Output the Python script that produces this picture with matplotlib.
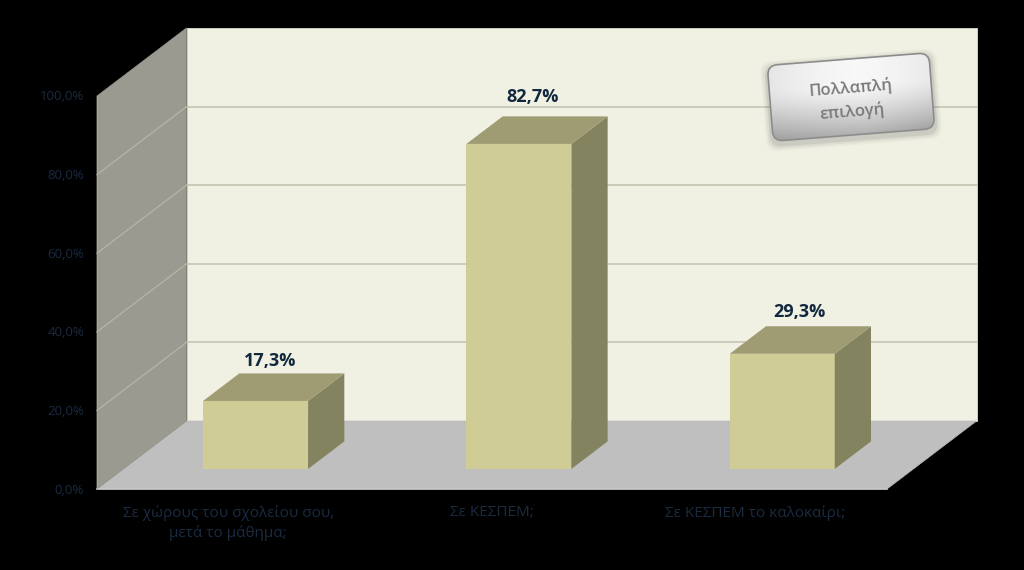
import numpy as np
import matplotlib
matplotlib.use('Agg')
import matplotlib.pyplot as plt
from matplotlib.patches import Polygon, FancyBboxPatch
from matplotlib.transforms import Affine2D

plt.rcParams['font.family'] = ['Open Sans', 'DejaVu Sans']

categories = ['Σε χώρους του σχολείου σου,\nμετά το μάθημα;', 'Σε ΚΕΣΠΕΜ;', 'Σε ΚΕΣΠΕΜ το καλοκαίρι;']
values = [17.3, 82.7, 29.3]
value_labels = ['17,3%', '82,7%', '29,3%']
y_ticks = [0, 20, 40, 60, 80, 100]
y_tick_labels = ['0,0%', '20,0%', '40,0%', '60,0%', '80,0%', '100,0%']
badge_lines = 'Πολλαπλή\nεπιλογή'

# front plane of the 3d box in pixels
x0, x1 = 97, 887
y0, y100 = 489, 96
dx, dy = 89.5, -68   # full depth offset
cat_w = (x1 - x0) / len(categories)
bar_w = 105
d_front, d_back = 0.295, 0.70   # bar depth range, fraction of the box
label_shift = [(-3.5, 3), (-4, 10), (-1, 5)]   # hand placed in the original


def pt(x, v, d=0.0):
    # x in front plane px, v in percent, d depth 0..1
    return (x + d * dx, y0 + (y100 - y0) * v / 100 + d * dy)


fig = plt.figure(figsize=(10.24, 5.7), dpi=100, facecolor='black')
ax = fig.add_axes([0, 0, 1, 1])
ax.set_xlim(0, 1024)
ax.set_ylim(570, 0)
ax.axis('off')

# back wall, side wall, floor
ax.add_patch(Polygon([pt(x0, 0, 1), pt(x1, 0, 1), pt(x1, 100, 1), pt(x0, 100, 1)], fc='#f0f0e3', ec='#f0f0e3', lw=0.5, zorder=1))
ax.add_patch(Polygon([pt(x0, 0), pt(x1, 0), pt(x1, 0, 1), pt(x0, 0, 1)], fc='#bfbfbf', ec='#bfbfbf', lw=0.5, zorder=1.2))
ax.add_patch(Polygon([pt(x0, 0), pt(x0, 0, 1), pt(x0, 100, 1), pt(x0, 100)], fc='#9b9a90', ec='#9b9a90', lw=0.5, zorder=1.5))

# grid
for t in y_ticks[1:-1]:
    a, b, c = pt(x0, t), pt(x0, t, 1), pt(x1, t, 1)
    ax.plot([b[0], c[0]], [b[1], c[1]], color='#c2c2b0', lw=1.1, zorder=2)
    ax.plot([a[0], b[0]], [a[1], b[1]], color='#b5b5a9', lw=0.9, zorder=2)
ax.plot([x0, x1], [y0, y0], color='#c8c8c8', lw=1.2, zorder=2)
ax.plot([x0, x0], [y0, y100], color='#a8a8a0', lw=0.8, zorder=2)

# tick labels
for t, lab in zip(y_ticks, y_tick_labels):
    ax.text(x0 - 13, pt(x0, t)[1] + 1, lab, ha='right', va='center', fontsize=9.5, color='#1a2b40', zorder=3)

# bars
for i, (v, lab, cat) in enumerate(zip(values, value_labels, categories)):
    left = x0 + cat_w * i + (cat_w - bar_w) / 2 + 0.5
    right = left + bar_w
    ax.add_patch(Polygon([pt(left, 0, d_front), pt(right, 0, d_front), pt(right, v, d_front), pt(left, v, d_front)],
                         fc='#cfcc95', ec='none', zorder=4))
    ax.add_patch(Polygon([pt(right, 0, d_front), pt(right, 0, d_back), pt(right, v, d_back), pt(right, v, d_front)],
                         fc='#84835f', ec='none', zorder=4))
    ax.add_patch(Polygon([pt(left, v, d_front), pt(right, v, d_front), pt(right, v, d_back), pt(left, v, d_back)],
                         fc='#9f9c74', ec='none', zorder=4))
    top = pt(left, v, d_back)
    sx, sy = label_shift[i]
    ax.text(left + bar_w / 2 + 0.5 * (d_front + d_back) * dx + sx, top[1] - sy, lab, ha='center', va='bottom',
            fontsize=13, fontweight='bold', color='#12283f', zorder=5)
    ax.text(left + bar_w / 2 - 1, 505, cat, ha='center', va='top', fontsize=11, color='#1a2b40',
            linespacing=1.35, zorder=3)

# rotated badge
rot = Affine2D().rotate_deg_around(851, 97, -4.5) + ax.transData
for grow, alpha in zip([7, 5, 3], [0.05, 0.08, 0.12]):
    ax.add_patch(FancyBboxPatch((770, 62), 162, 76, boxstyle=f'round,pad={grow},rounding_size=12', fc='#555555',
                                ec='none', alpha=alpha, transform=rot, zorder=6))
badge = FancyBboxPatch((770, 59), 162, 76, boxstyle='round,pad=0,rounding_size=10', fc='none',
                       ec='#8c8c8c', lw=1.2, transform=rot, zorder=8)
ax.add_patch(badge)
yy, xx = np.mgrid[0:1:80j, 0:1:160j]
shade = 0.97 - 0.30 * np.clip(yy - 0.35, 0, 1) ** 1.3 * 1.6 - 0.18 * np.abs(xx - 0.55) ** 1.5
badge_im = ax.imshow(shade, extent=(770, 932, 135, 59), cmap='gray', vmin=0, vmax=1, aspect='auto',
                     transform=rot, zorder=7)
badge_clip = FancyBboxPatch((770, 59), 162, 76, boxstyle='round,pad=0,rounding_size=10', transform=rot)
badge_im.set_clip_path(badge_clip)
ax.set_xlim(0, 1024)
ax.set_ylim(570, 0)
ax.text(851, 100, badge_lines, rotation=4.5, rotation_mode='anchor', ha='center', va='center', fontsize=12,
        fontweight='semibold', color='#7a7a7a', linespacing=1.55, zorder=9)

fig.savefig('out.png', dpi=100, facecolor='black')
